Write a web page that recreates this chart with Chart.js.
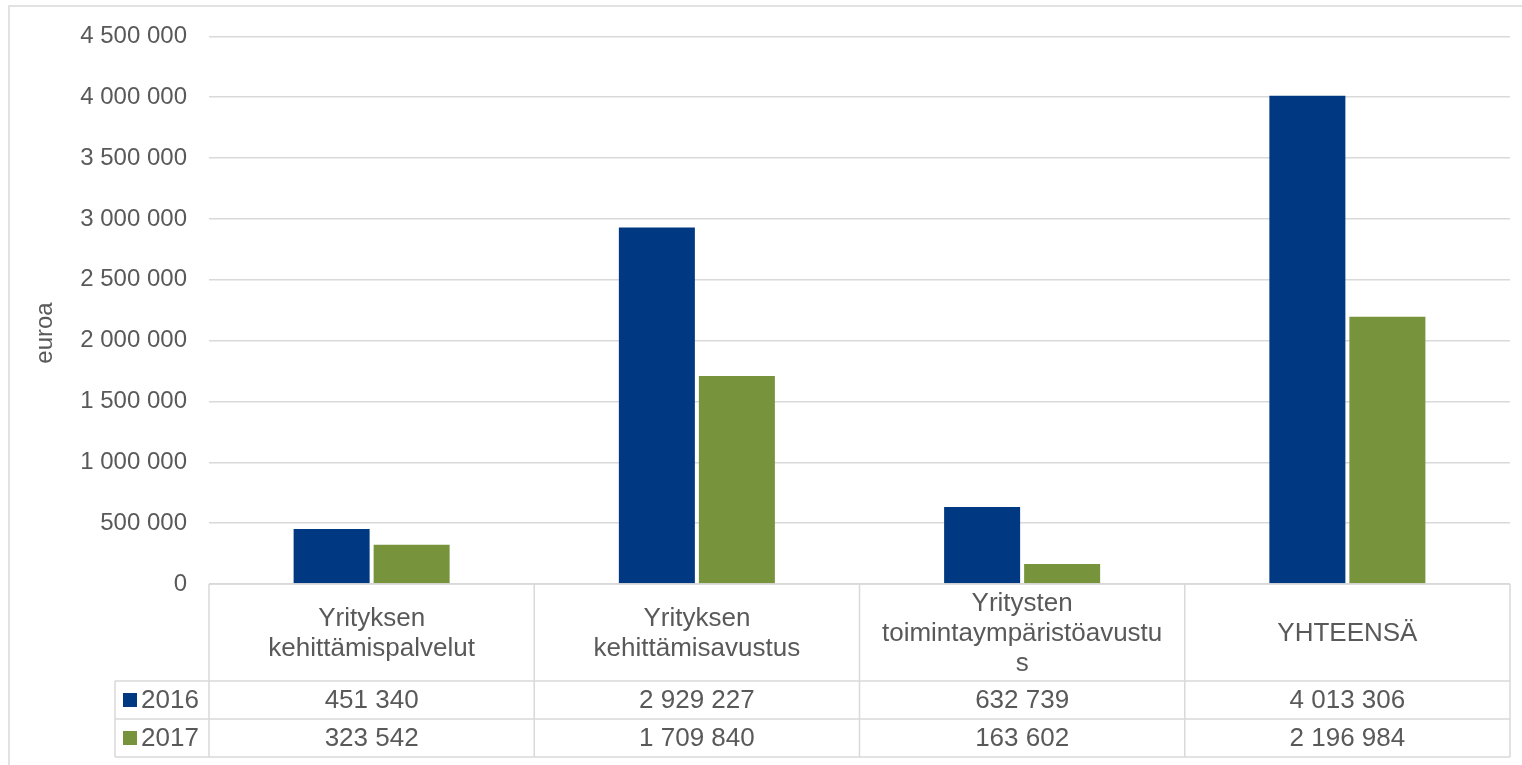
<!DOCTYPE html>
<html>
<head>
<meta charset="utf-8">
<script src="https://cdn.jsdelivr.net/npm/chart.js@4.4.1/dist/chart.umd.min.js"></script>
<style>
    body { margin: 0; background: #fff; }
    canvas { display: block; }
</style>
</head>
<body>
<canvas id="euroChart" width="1522" height="765"></canvas>
<script>
// Categories (header lines as they wrap in the table)
const categories = [
    ['Yrityksen', 'kehittämispalvelut'],
    ['Yrityksen', 'kehittämisavustus'],
    ['Yritysten', 'toimintaympäristöavustu', 's'],
    ['YHTEENSÄ']
];
const seriesNames = ['2016', '2017'];
const values2016 = [451340, 2929227, 632739, 4013306];
const values2017 = [323542, 1709840, 163602, 2196984];
const yTicks = [0, 500000, 1000000, 1500000, 2000000, 2500000, 3000000, 3500000, 4000000, 4500000];
const axisTitle = 'euroa';

const colors = ['#003882', '#77933C'];
const gridColor = '#D9D9D9';
const textColor = '#595959';
const fontFamily = 'Arial, "Liberation Sans", sans-serif';

function formatNumber(v) {
    return String(v).replace(/\B(?=(\d{3})+(?!\d))/g, ' ');
}

// Draws the data table under the plot, the axis title and the outer frame
const tablePlugin = {
    id: 'dataTable',
    afterDraw(chart) {
        const ctx = chart.ctx;
        const area = chart.chartArea;
        const xs = chart.scales.x;
        const n = categories.length;
        const colW = (area.right - area.left) / n;
        const headerBottom = area.bottom + 97;
        const row1Bottom = headerBottom + 38;
        const row2Bottom = row1Bottom + 38;
        const legendLeft = 115;

        ctx.save();
        ctx.strokeStyle = gridColor;
        ctx.lineWidth = 1.5;

        // outer frame
        ctx.beginPath();
        ctx.moveTo(9, chart.height);
        ctx.lineTo(9, 6);
        ctx.lineTo(chart.width, 6);
        ctx.stroke();

        // horizontal table lines
        ctx.beginPath();
        ctx.moveTo(area.left, area.bottom);
        ctx.lineTo(area.right, area.bottom);
        [headerBottom, row1Bottom, row2Bottom].forEach(y => {
            ctx.moveTo(legendLeft, y);
            ctx.lineTo(area.right, y);
        });
        // vertical table lines
        for (let i = 0; i <= n; i++) {
            const x = area.left + i * colW;
            ctx.moveTo(x, area.bottom);
            ctx.lineTo(x, row2Bottom);
        }
        ctx.moveTo(legendLeft, headerBottom);
        ctx.lineTo(legendLeft, row2Bottom);
        ctx.stroke();

        // header labels
        ctx.fillStyle = textColor;
        ctx.font = '26px ' + fontFamily;
        ctx.textAlign = 'center';
        ctx.textBaseline = 'middle';
        const headerMid = (area.bottom + headerBottom) / 2 + 1;
        const lineH = 30;
        categories.forEach((lines, i) => {
            const cx = xs.getPixelForValue(i);
            const y0 = headerMid - (lines.length - 1) * lineH / 2;
            lines.forEach((line, j) => ctx.fillText(line, cx, y0 + j * lineH));
        });

        // value rows
        const rows = [values2016, values2017];
        const rowMids = [(headerBottom + row1Bottom) / 2 + 1, (row1Bottom + row2Bottom) / 2 + 1];
        rows.forEach((vals, r) => {
            vals.forEach((v, i) => {
                ctx.fillText(formatNumber(v), xs.getPixelForValue(i), rowMids[r]);
            });
            // legend key + series name
            ctx.fillStyle = colors[r];
            ctx.fillRect(legendLeft + 8, rowMids[r] - 8, 14, 14);
            ctx.fillStyle = textColor;
            ctx.textAlign = 'left';
            ctx.fillText(seriesNames[r], legendLeft + 26, rowMids[r]);
            ctx.textAlign = 'center';
        });

        // y axis title
        ctx.translate(45, 333);
        ctx.rotate(-Math.PI / 2);
        ctx.font = '24px ' + fontFamily;
        ctx.fillText(axisTitle, 0, 0);
        ctx.restore();
    }
};

document.addEventListener("DOMContentLoaded", function () {
    const ctx = document.getElementById('euroChart').getContext('2d');
    new Chart(ctx, {
        type: 'bar',
        data: {
            labels: categories.map(c => c.join(' ')),
            datasets: [{
                label: seriesNames[0],
                data: values2016,
                backgroundColor: colors[0],
                borderWidth: 0,
                categoryPercentage: 0.492,
                barPercentage: 0.95
            }, {
                label: seriesNames[1],
                data: values2017,
                backgroundColor: colors[1],
                borderWidth: 0,
                categoryPercentage: 0.492,
                barPercentage: 0.95
            }]
        },
        options: {
            responsive: false,
            animation: false,
            devicePixelRatio: 1,
            layout: {
                padding: { top: 36, right: 12, bottom: 181, left: 0 }
            },
            plugins: {
                legend: { display: false },
                tooltip: { enabled: false }
            },
            scales: {
                x: { display: false },
                y: {
                    min: 0,
                    max: 4500000,
                    afterBuildTicks: scale => {
                        scale.ticks = yTicks.map(v => ({ value: v }));
                    },
                    afterFit: scale => { scale.width = 209; },
                    border: { display: false },
                    grid: { color: gridColor, lineWidth: 1.5, drawTicks: false },
                    ticks: {
                        padding: 22,
                        color: textColor,
                        font: { size: 24, family: fontFamily },
                        callback: value => formatNumber(value)
                    }
                }
            }
        },
        plugins: [tablePlugin]
    });
});
</script>
</body>
</html>
